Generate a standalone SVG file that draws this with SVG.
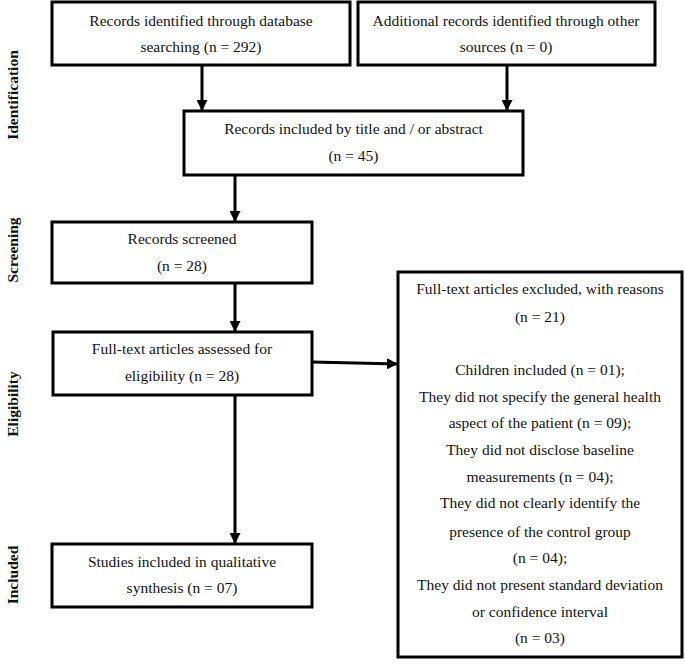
<svg xmlns="http://www.w3.org/2000/svg" width="685" height="668" viewBox="0 0 685 668">
<style>
  .box { fill: #ffffff; stroke: #000000; stroke-width: 3; }
  .t { font-family: "Liberation Serif", "Times New Roman", serif; font-size: 15.5px; fill: #111111; text-anchor: middle; }
  .lab { font-family: "Liberation Serif", "Times New Roman", serif; font-size: 15.5px; font-weight: bold; fill: #111111; text-anchor: middle; }
  .conn { stroke: #000000; stroke-width: 3; fill: none; marker-end: url(#ah); }
</style>
<defs>
  <marker id="ah" markerUnits="userSpaceOnUse" markerWidth="11" markerHeight="11" refX="11" refY="5.5" orient="auto">
    <path d="M0,0 L11,5.5 L0,11 z" fill="#000000"/>
  </marker>
</defs>
<rect width="685" height="668" fill="#ffffff"/>

<g id="phase-labels">
  <text class="lab" x="18" y="95" transform="rotate(-90 18 95)">Identification</text>
  <text class="lab" x="18" y="250" transform="rotate(-90 18 250)">Screening</text>
  <text class="lab" x="18" y="404" transform="rotate(-90 18 404)">Eligibility</text>
  <text class="lab" x="18" y="575" transform="rotate(-90 18 575)">Included</text>
</g>

<g id="connectors">
  <line class="conn" x1="202" y1="65" x2="202" y2="111"/>
  <line class="conn" x1="507" y1="65" x2="507" y2="111"/>
  <line class="conn" x1="235" y1="175" x2="235" y2="222"/>
  <line class="conn" x1="235" y1="283" x2="235" y2="332"/>
  <line class="conn" x1="235" y1="395" x2="235" y2="544"/>
  <line class="conn" x1="312" y1="362" x2="398" y2="364"/>
</g>

<g id="n-database">
  <rect class="box" x="52" y="2" width="298" height="63"/>
  <text class="t" x="201" y="26">Records identified through database</text>
  <text class="t" x="201" y="52">searching (n = 292)</text>
</g>

<g id="n-other">
  <rect class="box" x="358" y="2" width="297" height="63"/>
  <text class="t" x="506" y="26">Additional records identified through other</text>
  <text class="t" x="506" y="52">sources (n = 0)</text>
</g>

<g id="n-title">
  <rect class="box" x="184" y="111" width="339" height="64"/>
  <text class="t" x="353.5" y="134">Records included by title and / or abstract</text>
  <text class="t" x="353.5" y="161">(n = 45)</text>
</g>

<g id="n-screened">
  <rect class="box" x="52" y="222" width="260" height="61"/>
  <text class="t" x="182" y="244">Records screened</text>
  <text class="t" x="182" y="271">(n = 28)</text>
</g>

<g id="n-fulltext">
  <rect class="box" x="53" y="332" width="259" height="63"/>
  <text class="t" x="182" y="354">Full-text articles assessed for</text>
  <text class="t" x="182" y="381">eligibility (n = 28)</text>
</g>

<g id="n-included">
  <rect class="box" x="52" y="544" width="260" height="63"/>
  <text class="t" x="182" y="567">Studies included in qualitative</text>
  <text class="t" x="182" y="593">synthesis (n = 07)</text>
</g>

<g id="n-excluded">
  <rect class="box" x="398" y="272" width="284" height="385"/>
  <text class="t" x="540" y="294">Full-text articles excluded, with reasons</text>
  <text class="t" x="540" y="322">(n = 21)</text>
  <text class="t" x="540" y="375">Children included (n = 01);</text>
  <text class="t" x="540" y="402">They did not specify the general health</text>
  <text class="t" x="540" y="428">aspect of the patient (n = 09);</text>
  <text class="t" x="540" y="455">They did not disclose baseline</text>
  <text class="t" x="540" y="482">measurements (n = 04);</text>
  <text class="t" x="540" y="508">They did not clearly identify the</text>
  <text class="t" x="540" y="537">presence of the control group</text>
  <text class="t" x="540" y="563">(n = 04);</text>
  <text class="t" x="540" y="590">They did not present standard deviation</text>
  <text class="t" x="540" y="617">or confidence interval</text>
  <text class="t" x="540" y="643">(n = 03)</text>
</g>
</svg>
